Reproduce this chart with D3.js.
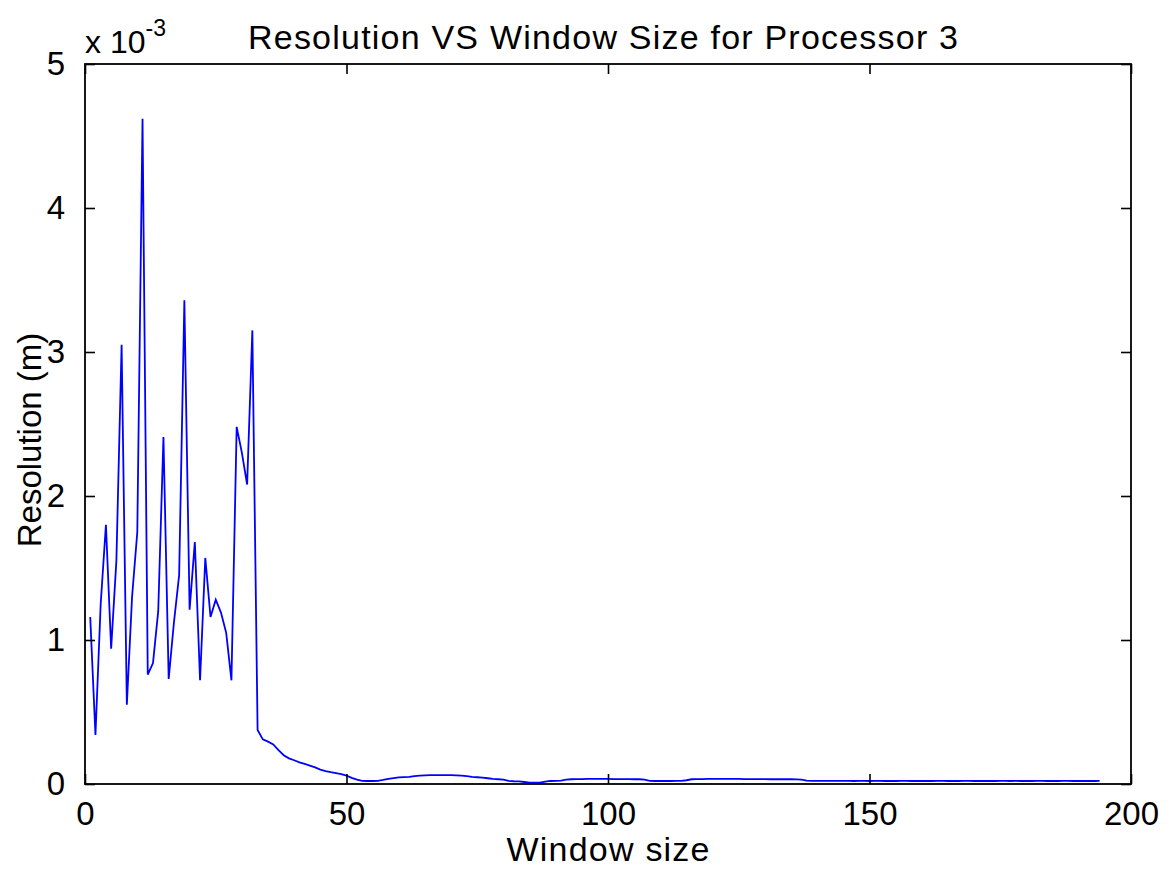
<!DOCTYPE html>
<html>
<head>
<meta charset="utf-8">
<script src="https://cdn.jsdelivr.net/npm/d3@7/dist/d3.min.js"></script>
<style>
  html, body { margin: 0; padding: 0; background: #fff; }
  svg { display: block; }
  text { font-family: "Liberation Sans", Arial, Helvetica, sans-serif; fill: #000; }
</style>
</head>
<body>
<svg id="chart" width="1174" height="869"></svg>
<script>
// Resolution (in units of 1e-3 m) for each window size 1..194, processor 3
const resolution = [
  1.16, 0.34, 1.25, 1.80, 0.94, 1.55, 3.05, 0.55, 1.30, 1.75,
  4.62, 0.76, 0.84, 1.20, 2.41, 0.73, 1.12, 1.45, 3.36, 1.21,
  1.68, 0.72, 1.57, 1.16, 1.28, 1.19, 1.05, 0.72, 2.48, 2.30,
  2.08, 3.15, 0.375, 0.31, 0.294, 0.275, 0.236, 0.200, 0.178, 0.165,
  0.150, 0.140, 0.128, 0.115, 0.100, 0.090, 0.082, 0.075, 0.068, 0.058,
  0.043, 0.030, 0.022, 0.021, 0.021, 0.022, 0.028, 0.035, 0.041, 0.046,
  0.048, 0.050, 0.055, 0.058, 0.060, 0.061, 0.062, 0.062, 0.062, 0.061,
  0.060, 0.058, 0.054, 0.050, 0.047, 0.044, 0.040, 0.035, 0.033, 0.030,
  0.022, 0.019, 0.018, 0.014, 0.010, 0.009, 0.010, 0.017, 0.021, 0.022,
  0.024, 0.030, 0.033, 0.034, 0.034, 0.035, 0.035, 0.035, 0.035, 0.035,
  0.034, 0.034, 0.034, 0.034, 0.033, 0.033, 0.030, 0.022, 0.021, 0.021,
  0.021, 0.021, 0.022, 0.022, 0.026, 0.033, 0.034, 0.034, 0.035, 0.035,
  0.035, 0.035, 0.035, 0.035, 0.035, 0.034, 0.034, 0.034, 0.034, 0.034,
  0.033, 0.033, 0.033, 0.033, 0.033, 0.032, 0.030, 0.024, 0.022, 0.022,
  0.022, 0.022, 0.022, 0.022, 0.022, 0.022, 0.021, 0.022, 0.022, 0.021,
  0.022, 0.022, 0.021, 0.022, 0.021, 0.022, 0.022, 0.021, 0.022, 0.021,
  0.022, 0.021, 0.022, 0.022, 0.021, 0.022, 0.021, 0.022, 0.022, 0.021,
  0.022, 0.021, 0.022, 0.021, 0.022, 0.022, 0.021, 0.022, 0.021, 0.022,
  0.021, 0.022, 0.022, 0.021, 0.022, 0.021, 0.022, 0.022, 0.021, 0.022,
  0.021, 0.022, 0.021, 0.022
];
const windowSize = resolution.map((_, i) => i + 1);

const xTicks = [0, 50, 100, 150, 200];
const yTicks = [0, 1, 2, 3, 4, 5];

const titleText = "Resolution VS Window Size for Processor 3";
const xLabelText = "Window size";
const yLabelText = "Resolution (m)";

const svg = d3.select("#chart");
const plotLeft = 85, plotRight = 1131, plotTop = 64, plotBottom = 784;

const x = d3.scaleLinear().domain([0, 200]).range([plotLeft, plotRight]);
const y = d3.scaleLinear().domain([0, 5]).range([plotBottom, plotTop]);

const tickLen = 10;
const axisColor = "#000";

// data line
const line = d3.line()
  .x((d, i) => x(windowSize[i]))
  .y(d => y(d));

svg.append("path")
  .datum(resolution)
  .attr("d", line)
  .attr("fill", "none")
  .attr("stroke", "#0000ff")
  .attr("stroke-width", 1.8)
  .attr("stroke-linejoin", "miter");

// axes: inward ticks, mirrored on the opposite sides
const tickFont = 33;
const bottomAxis = d3.axisBottom(x).tickValues(xTicks).tickSizeInner(-tickLen).tickSizeOuter(0).tickPadding(18);
const topAxis = d3.axisTop(x).tickValues(xTicks).tickSizeInner(-tickLen).tickSizeOuter(0).tickFormat("");
const leftAxis = d3.axisLeft(y).tickValues(yTicks).tickSizeInner(-tickLen).tickSizeOuter(0).tickPadding(20).tickFormat(d3.format("d"));
const rightAxis = d3.axisRight(y).tickValues(yTicks).tickSizeInner(-tickLen).tickSizeOuter(0).tickFormat("");

function styleAxis(g) {
  g.select(".domain").remove();
  g.selectAll(".tick line").attr("stroke", axisColor).attr("stroke-width", 1.6);
  g.selectAll(".tick text")
    .attr("font-size", tickFont)
    .attr("font-family", "Liberation Sans, Arial, sans-serif")
    .attr("fill", "#000");
}

svg.append("g").attr("transform", `translate(0,${plotBottom})`).call(bottomAxis).call(styleAxis);
svg.append("g").attr("transform", `translate(0,${plotTop})`).call(topAxis).call(styleAxis);
svg.append("g").attr("transform", `translate(${plotLeft},0)`).call(leftAxis).call(styleAxis);
svg.append("g").attr("transform", `translate(${plotRight},0)`).call(rightAxis).call(styleAxis);

// plot box
svg.append("rect")
  .attr("x", plotLeft).attr("y", plotTop)
  .attr("width", plotRight - plotLeft).attr("height", plotBottom - plotTop)
  .attr("fill", "none")
  .attr("stroke", axisColor)
  .attr("stroke-width", 1.8);

// exponent marker
const expo = svg.append("text")
  .attr("x", plotLeft).attr("y", 53)
  .attr("font-size", 32);
expo.append("tspan").text("x 10");
expo.append("tspan").attr("font-size", 23).attr("dy", -17).text("-3");

// title
svg.append("text")
  .attr("x", 603).attr("y", 49)
  .attr("text-anchor", "middle")
  .attr("font-size", 34)
  .attr("textLength", 710)
  .attr("lengthAdjust", "spacing")
  .text(titleText);

// x label
svg.append("text")
  .attr("x", (plotLeft + plotRight) / 2).attr("y", 861)
  .attr("text-anchor", "middle")
  .attr("font-size", 34)
  .attr("textLength", 203)
  .attr("lengthAdjust", "spacing")
  .text(xLabelText);

// y label
svg.append("text")
  .attr("transform", `translate(41,440) rotate(-90)`)
  .attr("text-anchor", "middle")
  .attr("font-size", 33)
  .text(yLabelText);
</script>
</body>
</html>
